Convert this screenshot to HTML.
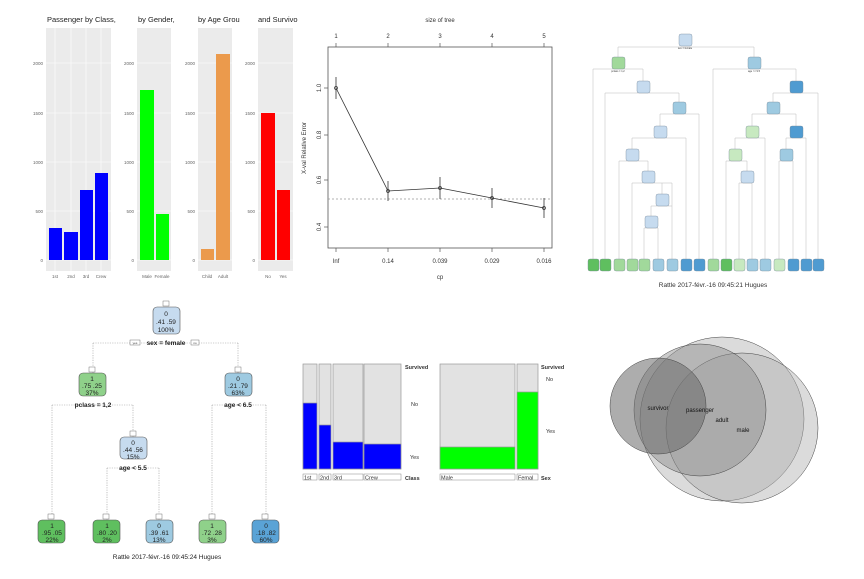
<!DOCTYPE html>
<html><head><meta charset="utf-8"><style>
html,body{margin:0;padding:0;background:#fff}
svg{display:block;font-family:"Liberation Sans",sans-serif}
</style></head><body>
<svg width="864" height="579" viewBox="0 0 864 579" xmlns="http://www.w3.org/2000/svg">
<rect width="864" height="579" fill="#fff"/>

<!-- ===== bar panels ===== -->
<g font-size="4.5" fill="#666">
  <rect x="46" y="28" width="65" height="243" fill="#ebebeb"/>
  <g stroke="#fff" stroke-width="0.6">
    <line x1="46" x2="111" y1="63" y2="63"/><line x1="46" x2="111" y1="113" y2="113"/><line x1="46" x2="111" y1="162" y2="162"/><line x1="46" x2="111" y1="211" y2="211"/><line x1="46" x2="111" y1="260" y2="260"/>
    <line x1="55" x2="55" y1="28" y2="271"/><line x1="71" x2="71" y1="28" y2="271"/><line x1="86" x2="86" y1="28" y2="271"/><line x1="101" x2="101" y1="28" y2="271"/>
  </g>
  <rect x="49" y="228" width="13" height="32" fill="#0000ff"/>
  <rect x="64" y="232" width="14" height="28" fill="#0000ff"/>
  <rect x="80" y="190" width="13" height="70" fill="#0000ff"/>
  <rect x="95" y="173" width="13" height="87" fill="#0000ff"/>
  <g text-anchor="end"><text x="43" y="65">2000</text><text x="43" y="115">1500</text><text x="43" y="164">1000</text><text x="43" y="213">500</text><text x="43" y="262">0</text></g>
  <g text-anchor="middle"><text x="55" y="278">1st</text><text x="71" y="278">2nd</text><text x="86" y="278">3rd</text><text x="101" y="278">Crew</text></g>
  <text x="47" y="22" font-size="7.5" fill="#222">Passenger by Class,</text>

  <rect x="137" y="28" width="34" height="243" fill="#ebebeb"/>
  <g stroke="#fff" stroke-width="0.6">
    <line x1="137" x2="171" y1="63" y2="63"/><line x1="137" x2="171" y1="113" y2="113"/><line x1="137" x2="171" y1="162" y2="162"/><line x1="137" x2="171" y1="211" y2="211"/><line x1="137" x2="171" y1="260" y2="260"/>
  </g>
  <rect x="140" y="90" width="14" height="170" fill="#00ff00"/>
  <rect x="156" y="214" width="13" height="46" fill="#00ff00"/>
  <g text-anchor="end"><text x="134" y="65">2000</text><text x="134" y="115">1500</text><text x="134" y="164">1000</text><text x="134" y="213">500</text><text x="134" y="262">0</text></g>
  <g text-anchor="middle"><text x="147" y="278">Male</text><text x="162" y="278">Female</text></g>
  <text x="138" y="22" font-size="7.5" fill="#222">by Gender,</text>

  <rect x="198" y="28" width="34" height="243" fill="#ebebeb"/>
  <g stroke="#fff" stroke-width="0.6">
    <line x1="198" x2="232" y1="63" y2="63"/><line x1="198" x2="232" y1="113" y2="113"/><line x1="198" x2="232" y1="162" y2="162"/><line x1="198" x2="232" y1="211" y2="211"/><line x1="198" x2="232" y1="260" y2="260"/>
  </g>
  <rect x="201" y="249" width="13" height="11" fill="#eb9a4c"/>
  <rect x="216" y="54" width="14" height="206" fill="#eb9a4c"/>
  <g text-anchor="end"><text x="195" y="65">2000</text><text x="195" y="115">1500</text><text x="195" y="164">1000</text><text x="195" y="213">500</text><text x="195" y="262">0</text></g>
  <g text-anchor="middle"><text x="207" y="278">Child</text><text x="223" y="278">Adult</text></g>
  <text x="198" y="22" font-size="7.5" fill="#222">by Age Grou</text>

  <rect x="258" y="28" width="35" height="243" fill="#ebebeb"/>
  <g stroke="#fff" stroke-width="0.6">
    <line x1="258" x2="293" y1="63" y2="63"/><line x1="258" x2="293" y1="113" y2="113"/><line x1="258" x2="293" y1="162" y2="162"/><line x1="258" x2="293" y1="211" y2="211"/><line x1="258" x2="293" y1="260" y2="260"/>
  </g>
  <rect x="261" y="113" width="14" height="147" fill="#ff0000"/>
  <rect x="277" y="190" width="13" height="70" fill="#ff0000"/>
  <g text-anchor="end"><text x="255" y="65">2000</text><text x="255" y="115">1500</text><text x="255" y="164">1000</text><text x="255" y="213">500</text><text x="255" y="262">0</text></g>
  <g text-anchor="middle"><text x="268" y="278">No</text><text x="283" y="278">Yes</text></g>
  <text x="258" y="22" font-size="7.5" fill="#222">and Survivo</text>
</g>

<!-- ===== CP plot ===== -->
<g font-size="6" fill="#333">
  <rect x="328" y="47" width="224" height="201" fill="none" stroke="#555" stroke-width="0.8"/>
  <text x="440" y="22" text-anchor="middle">size of tree</text>
  <g stroke="#555" stroke-width="0.7">
    <line x1="336" x2="336" y1="47" y2="43"/><line x1="388" x2="388" y1="47" y2="43"/><line x1="440" x2="440" y1="47" y2="43"/><line x1="492" x2="492" y1="47" y2="43"/><line x1="544" x2="544" y1="47" y2="43"/>
    <line x1="336" x2="336" y1="248" y2="252"/><line x1="388" x2="388" y1="248" y2="252"/><line x1="440" x2="440" y1="248" y2="252"/><line x1="492" x2="492" y1="248" y2="252"/><line x1="544" x2="544" y1="248" y2="252"/>
    <line x1="328" x2="324" y1="88" y2="88"/><line x1="328" x2="324" y1="135" y2="135"/><line x1="328" x2="324" y1="180" y2="180"/><line x1="328" x2="324" y1="227" y2="227"/>
  </g>
  <g text-anchor="middle"><text x="336" y="38">1</text><text x="388" y="38">2</text><text x="440" y="38">3</text><text x="492" y="38">4</text><text x="544" y="38">5</text>
  <text x="336" y="263">Inf</text><text x="388" y="263">0.14</text><text x="440" y="263">0.039</text><text x="492" y="263">0.029</text><text x="544" y="263">0.016</text>
  <text x="440" y="279">cp</text></g>
  <g text-anchor="middle">
    <text transform="translate(321,88) rotate(-90)">1.0</text>
    <text transform="translate(321,135) rotate(-90)">0.8</text>
    <text transform="translate(321,180) rotate(-90)">0.6</text>
    <text transform="translate(321,227) rotate(-90)">0.4</text>
    <text transform="translate(306,148) rotate(-90)">X-val Relative Error</text>
  </g>
  <line x1="328" x2="552" y1="199" y2="199" stroke="#999" stroke-width="0.8" stroke-dasharray="2,2"/>
  <polyline points="336,88 388,191 440,188 492,198 544,208" fill="none" stroke="#333" stroke-width="0.8"/>
  <g stroke="#333" stroke-width="0.8">
    <line x1="336" x2="336" y1="77" y2="99"/><line x1="388" x2="388" y1="181" y2="201"/><line x1="440" x2="440" y1="177" y2="199"/><line x1="492" x2="492" y1="188" y2="208"/><line x1="544" x2="544" y1="198" y2="218"/>
  </g>
  <g fill="none" stroke="#333" stroke-width="0.7">
    <circle cx="336" cy="88" r="1.5"/><circle cx="388" cy="191" r="1.5"/><circle cx="440" cy="188" r="1.5"/><circle cx="492" cy="198" r="1.5"/><circle cx="544" cy="208" r="1.5"/>
  </g>
</g>

<!-- ===== big tree (top right) ===== -->
<g stroke="#bbb" stroke-width="0.5" fill="none">
  <path d="M618,47 H754 M618,47 V57 M754,47 V57"/>
  <path d="M593,69 H643 M593,69 V259 M643,69 V81"/>
  <path d="M605,93 H679 M605,93 V259 M679,93 V102"/>
  <path d="M660,114 H699 M660,114 V126 M699,114 V259"/>
  <path d="M632,138 H686 M632,138 V149 M686,138 V259"/>
  <path d="M619,161 H648 M619,161 V259 M648,161 V171"/>
  <path d="M632,183 H672 M632,183 V259 M672,183 V259 M662,183 V194"/>
  <path d="M651,206 H672 M651,206 V216"/>
  <path d="M644,228 H658 M644,228 V259 M658,228 V259"/>
  <path d="M713,69 H796 M713,69 V259 M796,69 V81"/>
  <path d="M773,93 H818 M773,93 V102 M818,93 V259"/>
  <path d="M752,114 H796 M752,114 V126 M796,114 V126"/>
  <path d="M735,138 H765 M735,138 V149 M765,138 V259"/>
  <path d="M726,161 H747 M726,161 V259 M747,161 V171"/>
  <path d="M739,183 H752 M739,183 V259 M752,183 V259"/>
  <path d="M786,138 H806 M786,138 V149 M806,138 V259"/>
  <path d="M779,161 H793 M779,161 V259 M793,161 V259"/>
</g>
<g stroke="#7a8a9a" stroke-width="0.4">
  <rect x="679" y="34" width="13" height="12" rx="2" fill="#c6dbef"/>
  <rect x="612" y="57" width="13" height="12" rx="2" fill="#a1d99b"/>
  <rect x="748" y="57" width="13" height="12" rx="2" fill="#9ecae1"/>
  <rect x="637" y="81" width="13" height="12" rx="2" fill="#c6dbef"/>
  <rect x="673" y="102" width="13" height="12" rx="2" fill="#9ecae1"/>
  <rect x="654" y="126" width="13" height="12" rx="2" fill="#c6dbef"/>
  <rect x="626" y="149" width="13" height="12" rx="2" fill="#c6dbef"/>
  <rect x="642" y="171" width="13" height="12" rx="2" fill="#c6dbef"/>
  <rect x="656" y="194" width="13" height="12" rx="2" fill="#c6dbef"/>
  <rect x="645" y="216" width="13" height="12" rx="2" fill="#c6dbef"/>
  <rect x="790" y="81" width="13" height="12" rx="2" fill="#4f9bd1"/>
  <rect x="767" y="102" width="13" height="12" rx="2" fill="#9ecae1"/>
  <rect x="746" y="126" width="13" height="12" rx="2" fill="#c7e9c0"/>
  <rect x="790" y="126" width="13" height="12" rx="2" fill="#4f9bd1"/>
  <rect x="729" y="149" width="13" height="12" rx="2" fill="#c7e9c0"/>
  <rect x="780" y="149" width="13" height="12" rx="2" fill="#9ecae1"/>
  <rect x="741" y="171" width="13" height="12" rx="2" fill="#c6dbef"/>
  <rect x="588" y="259" width="11" height="12" rx="2" fill="#5fbf5f"/>
  <rect x="600" y="259" width="11" height="12" rx="2" fill="#5fbf5f"/>
  <rect x="614" y="259" width="11" height="12" rx="2" fill="#a1d99b"/>
  <rect x="627" y="259" width="11" height="12" rx="2" fill="#a1d99b"/>
  <rect x="639" y="259" width="11" height="12" rx="2" fill="#a1d99b"/>
  <rect x="653" y="259" width="11" height="12" rx="2" fill="#9ecae1"/>
  <rect x="667" y="259" width="11" height="12" rx="2" fill="#9ecae1"/>
  <rect x="681" y="259" width="11" height="12" rx="2" fill="#4f9bd1"/>
  <rect x="694" y="259" width="11" height="12" rx="2" fill="#4f9bd1"/>
  <rect x="708" y="259" width="11" height="12" rx="2" fill="#a1d99b"/>
  <rect x="721" y="259" width="11" height="12" rx="2" fill="#5fbf5f"/>
  <rect x="734" y="259" width="11" height="12" rx="2" fill="#c7e9c0"/>
  <rect x="747" y="259" width="11" height="12" rx="2" fill="#9ecae1"/>
  <rect x="760" y="259" width="11" height="12" rx="2" fill="#9ecae1"/>
  <rect x="774" y="259" width="11" height="12" rx="2" fill="#c7e9c0"/>
  <rect x="788" y="259" width="11" height="12" rx="2" fill="#4f9bd1"/>
  <rect x="801" y="259" width="11" height="12" rx="2" fill="#4f9bd1"/>
  <rect x="813" y="259" width="11" height="12" rx="2" fill="#4f9bd1"/>
</g>
<g font-size="2.5" fill="#333" text-anchor="middle">
  <text x="685" y="49">sex = female</text><text x="618" y="72">pclass = 1,2</text><text x="754" y="72">age &gt;= 9.5</text>
</g>
<text x="713" y="287" font-size="6.5" fill="#333" text-anchor="middle">Rattle 2017-févr.-16 09:45:21 Hugues</text>

<!-- ===== small tree (bottom left) ===== -->
<g stroke="#999" stroke-width="0.6" fill="none" stroke-dasharray="1.2,1.2">
  <path d="M93,343 H238 M93,343 V373 M238,343 V373"/>
  <path d="M52,405 H133 M52,405 V520 M133,405 V437"/>
  <path d="M107,468 H159 M107,468 V520 M159,468 V520"/>
  <path d="M212,405 H266 M212,405 V520 M266,405 V520"/>
</g>
<g stroke="#555" stroke-width="0.6">
  <rect x="153" y="307" width="27" height="27" rx="4" fill="#c6dbef"/>
  <rect x="79" y="373" width="27" height="23" rx="4" fill="#8fd18a"/>
  <rect x="225" y="373" width="27" height="23" rx="4" fill="#9ecae1"/>
  <rect x="120" y="437" width="27" height="22" rx="4" fill="#c6dbef"/>
  <rect x="38" y="520" width="27" height="23" rx="4" fill="#5fbf5f"/>
  <rect x="93" y="520" width="27" height="23" rx="4" fill="#5fbf5f"/>
  <rect x="146" y="520" width="27" height="23" rx="4" fill="#9ecae1"/>
  <rect x="199" y="520" width="27" height="23" rx="4" fill="#8fd18a"/>
  <rect x="252" y="520" width="27" height="23" rx="4" fill="#5aa3d6"/>
</g>
<g fill="#fff" stroke="#555" stroke-width="0.4">
  <rect x="163" y="301" width="6" height="5"/><rect x="89" y="367" width="6" height="5"/><rect x="235" y="367" width="6" height="5"/><rect x="130" y="431" width="6" height="5"/>
  <rect x="48" y="514" width="6" height="5"/><rect x="103" y="514" width="6" height="5"/><rect x="156" y="514" width="6" height="5"/><rect x="209" y="514" width="6" height="5"/><rect x="262" y="514" width="6" height="5"/>
  <rect x="130" y="340" width="10" height="5"/><rect x="191" y="340" width="8" height="5"/>
</g>
<g font-size="6.5" fill="#222" text-anchor="middle">
  <text x="166" y="316">0</text><text x="166" y="324">.41 .59</text><text x="166" y="332">100%</text>
  <text x="92" y="381">1</text><text x="92" y="388">.75 .25</text><text x="92" y="395">37%</text>
  <text x="238" y="381">0</text><text x="238" y="388">.21 .79</text><text x="238" y="395">63%</text>
  <text x="133" y="445">0</text><text x="133" y="452">.44 .56</text><text x="133" y="459">15%</text>
  <text x="52" y="528">1</text><text x="52" y="535">.95 .05</text><text x="52" y="542">22%</text>
  <text x="107" y="528">1</text><text x="107" y="535">.80 .20</text><text x="107" y="542">2%</text>
  <text x="159" y="528">0</text><text x="159" y="535">.39 .61</text><text x="159" y="542">13%</text>
  <text x="212" y="528">1</text><text x="212" y="535">.72 .28</text><text x="212" y="542">3%</text>
  <text x="266" y="528">0</text><text x="266" y="535">.18 .82</text><text x="266" y="542">60%</text>
  <g font-weight="bold"><text x="166" y="345">sex = female</text><text x="93" y="407">pclass = 1,2</text><text x="238" y="407">age &lt; 6.5</text><text x="133" y="470">age &lt; 5.5</text></g>
  <text x="167" y="559" font-size="6.5">Rattle 2017-févr.-16 09:45:24 Hugues</text>
</g>
<g font-size="3" fill="#333" text-anchor="middle"><text x="135" y="344">yes</text><text x="195" y="344">no</text></g>

<!-- ===== mosaic ===== -->
<g stroke="#999" stroke-width="0.7">
  <rect x="303" y="364" width="14" height="105" fill="#e2e2e2"/><rect x="303" y="403" width="14" height="66" fill="#0000ff"/>
  <rect x="319" y="364" width="12" height="105" fill="#e2e2e2"/><rect x="319" y="425" width="12" height="44" fill="#0000ff"/>
  <rect x="333" y="364" width="30" height="105" fill="#e2e2e2"/><rect x="333" y="442" width="30" height="27" fill="#0000ff"/>
  <rect x="364" y="364" width="37" height="105" fill="#e2e2e2"/><rect x="364" y="444" width="37" height="25" fill="#0000ff"/>
  <rect x="440" y="364" width="75" height="105" fill="#e2e2e2"/><rect x="440" y="447" width="75" height="22" fill="#00ff00"/>
  <rect x="517" y="364" width="21" height="105" fill="#e2e2e2"/><rect x="517" y="392" width="21" height="77" fill="#00ff00"/>
</g>
<g fill="#fff" stroke="#888" stroke-width="0.5">
  <rect x="303" y="474" width="14" height="6"/><rect x="319" y="474" width="12" height="6"/><rect x="333" y="474" width="30" height="6"/><rect x="364" y="474" width="37" height="6"/>
  <rect x="440" y="474" width="75" height="6"/><rect x="517" y="474" width="21" height="6"/>
</g>
<g font-size="5.5" fill="#333">
  <text x="304" y="479.5">1st</text><text x="320" y="479.5">2nd</text><text x="334" y="479.5">3rd</text><text x="365" y="479.5">Crew</text>
  <text x="441" y="479.5">Male</text><text x="518" y="479.5">Femal</text>
  <text x="405" y="369" font-weight="bold">Survived</text><text x="411" y="406">No</text><text x="410" y="459">Yes</text><text x="405" y="480" font-weight="bold">Class</text>
  <text x="541" y="369" font-weight="bold">Survived</text><text x="546" y="381">No</text><text x="546" y="433">Yes</text><text x="541" y="480" font-weight="bold">Sex</text>
</g>

<!-- ===== venn ===== -->
<g stroke="#444" stroke-width="0.5">
  <ellipse cx="722" cy="419" rx="82" ry="82" fill="#b0b0b0" fill-opacity="0.45"/>
  <ellipse cx="742" cy="428" rx="76" ry="75" fill="#b0b0b0" fill-opacity="0.45"/>
  <ellipse cx="700" cy="410" rx="66" ry="66" fill="#8a8a8a" fill-opacity="0.45"/>
  <ellipse cx="658" cy="406" rx="48" ry="48" fill="#6a6a6a" fill-opacity="0.55"/>
</g>
<g font-size="6" fill="#111" text-anchor="middle">
  <text x="658" y="410">survivor</text><text x="700" y="412">passenger</text><text x="722" y="422">adult</text><text x="743" y="432">male</text>
</g>
</svg>
</body></html>
